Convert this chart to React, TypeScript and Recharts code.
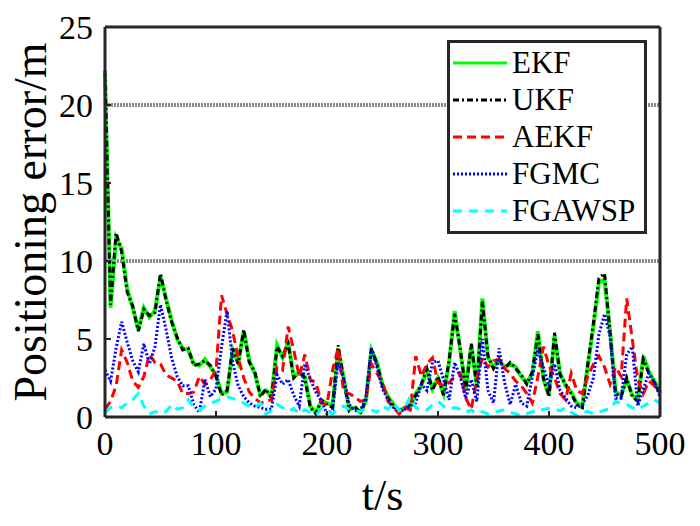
import { LineChart, Line, XAxis, YAxis, ReferenceLine, Legend } from "recharts";

// sample times (s)
const time = [
  0, 5, 10, 15, 20, 25, 30, 35, 40, 45, 50, 55, 60, 65, 70, 75, 80, 85, 90, 95,
  100, 105, 110, 115, 120, 125, 130, 135, 140, 145, 150, 155, 160, 165, 170, 175,
  180, 185, 190, 195, 200, 205, 210, 215, 220, 225, 230, 235, 240, 245, 250, 255,
  260, 265, 270, 275, 280, 285, 290, 295, 300, 305, 310, 315, 320, 325, 330, 335,
  340, 345, 350, 355, 360, 365, 370, 375, 380, 385, 390, 395, 400, 405, 410, 415,
  420, 425, 430, 435, 440, 445, 450, 455, 460, 465, 470, 475, 480, 485, 490, 495,
  500,
];

// positioning error (m) of each filter
const ekf = [
  22, 7.0, 11.5, 10.8, 8.2, 7.0, 5.6, 7.0, 6.4, 6.8,
  9.0, 7.6, 6.2, 5.0, 4.4, 4.3, 3.4, 3.3, 3.7, 3.2,
  2.7, 1.5, 1.6, 4.3, 3.5, 5.5, 3.6, 2.8, 1.4, 1.7,
  1.3, 4.6, 3.8, 4.8, 2.6, 2.8, 2.6, 0.7, 0.3, 1.0,
  0.9, 0.7, 4.4, 2.5, 0.5, 0.6, 0.3, 1.0, 4.3, 3.5,
  2.1, 1.3, 0.8, 0.4, 0.6, 0.7, 1.5, 2.0, 3.0, 1.8,
  2.5, 1.5, 3.5, 6.8, 4.3, 1.8, 4.6, 2.0, 7.6, 3.8,
  3.2, 3.6, 3.2, 3.4, 3.2, 2.6, 2.2, 2.8, 5.5, 2.4,
  1.4, 5.2, 2.8, 2.0, 1.6, 0.9, 0.7, 3.3, 5.8, 8.6,
  8.8, 5.5, 1.6, 1.4, 2.4, 1.4, 1.1, 3.9, 2.9, 2.3,
  1.6,
];

const ukf = [
  22.2, 7.2, 11.8, 10.6, 8.0, 7.1, 5.5, 6.9, 6.5, 6.7,
  9.2, 7.5, 6.1, 5.1, 4.3, 4.4, 3.3, 3.4, 3.6, 3.3,
  2.6, 1.4, 1.7, 4.4, 3.4, 5.6, 3.5, 2.9, 1.3, 1.8,
  1.2, 4.5, 3.9, 4.7, 2.5, 2.9, 2.5, 0.6, 0.2, 1.1,
  0.8, 0.6, 4.6, 2.4, 0.4, 0.7, 0.2, 1.1, 4.4, 3.4,
  2.0, 1.2, 0.7, 0.3, 0.5, 0.8, 1.4, 2.1, 3.1, 1.7,
  2.6, 1.4, 3.6, 6.6, 4.4, 1.7, 4.7, 1.9, 7.4, 3.9,
  3.1, 3.7, 3.1, 3.5, 3.1, 2.7, 2.1, 2.9, 5.3, 2.5,
  1.3, 5.4, 2.7, 2.1, 1.5, 0.8, 0.6, 3.4, 6.0, 8.9,
  9.2, 5.4, 1.5, 1.3, 2.5, 1.3, 1.0, 3.7, 2.8, 2.2,
  1.5,
];

const aekf = [
  0.5, 1.0, 2.0, 4.3, 3.5, 2.3, 1.9, 2.6, 4.0, 3.5,
  3.4, 2.7, 2.5, 2.3, 1.5, 1.5, 1.6, 2.6, 2.1, 2.4,
  3.0, 7.8, 6.6, 5.5, 3.8, 2.5, 1.6, 1.2, 0.9, 1.0,
  1.1, 3.2, 3.0, 5.8, 4.3, 2.6, 4.0, 2.4, 2.2, 0.9,
  0.8, 3.0, 4.4, 1.6, 1.5, 1.3, 1.0, 1.1, 3.4, 2.8,
  2.2, 1.0, 0.6, 0.2, 0.6, 0.45, 3.9, 2.6, 3.4, 3.8,
  2.2, 2.0, 2.2, 2.6, 2.8, 1.2, 0.5, 2.5, 3.8, 3.2,
  3.6, 3.7, 3.1, 2.8, 2.3, 2.0, 1.5, 0.9, 2.6, 4.5,
  3.3, 2.5, 1.5, 1.1, 2.8, 1.7, 1.5, 2.6, 3.4, 3.9,
  3.2, 2.1, 3.2, 2.6, 7.6, 5.0, 2.4, 1.5, 2.3, 2.0,
  1.5,
];

const fgmc = [
  3.0, 2.3, 4.4, 6.1, 4.8, 3.6, 2.9, 4.7, 3.4, 4.5,
  7.2, 5.6, 3.8, 2.6, 2.0, 2.0, 0.8, 0.3, 2.4, 1.3,
  1.8, 4.5, 6.8, 3.5, 2.0, 1.3, 0.9, 0.7, 0.6, 0.5,
  0.5, 2.7, 2.1, 2.4, 1.4, 0.7, 3.4, 2.4, 1.6, 1.0,
  0.2, 0.45, 3.5, 2.5, 0.8, 0.4, 0.4, 1.2, 4.4, 3.2,
  1.8, 1.1, 0.6, 0.45, 0.5, 0.7, 0.9, 2.1, 1.7, 3.5,
  3.6, 2.4, 1.1, 3.5, 2.6, 1.2, 2.4, 1.0, 5.0, 1.7,
  0.9, 4.4, 2.2, 0.8, 2.1, 0.9, 0.7, 2.6, 4.3, 3.2,
  2.0, 3.4, 1.7, 1.2, 0.7, 0.6, 0.8, 1.4, 2.5, 5.3,
  6.6, 5.2, 1.2, 1.2, 4.0, 4.5, 0.7, 1.8, 2.8, 2.2,
  1.3,
];

const fgawsp = [
  0.3, 0.6, 0.7, 0.6, 0.9, 1.1, 1.5, 0.7, 0.2, 0.35,
  0.2, 0.35, 0.8, 0.5, 0.6, 1.1, 0.6, 0.45, 0.7, 0.9,
  1.0, 1.2, 1.3, 1.2, 1.0, 0.9, 0.7, 0.6, 0.9, 0.2,
  0.4, 0.8, 0.6, 0.35, 0.55, 0.2, 0.45, 0.3, 0.1, 0.55,
  0.35, 0.2, 0.55, 0.7, 0.5, 0.4, 0.35, 0.55, 0.45, 0.3,
  0.7, 0.5, 0.9, 0.4, 0.6, 1.3, 0.6, 0.4, 0.45, 0.8,
  1.0, 0.7, 0.5, 0.6, 0.5, 0.3, 0.45, 0.2, 0.35, 0.2,
  0.25, 0.4, 0.45, 0.3, 0.2, 0.1, 0.2, 0.35, 0.3, 0.5,
  0.55, 0.5, 0.4, 0.6, 0.3, 0.1, 0.3, 0.35, 0.2, 0.3,
  0.45, 0.5, 1.0, 0.9, 0.8, 0.6, 0.45, 0.7, 0.9, 1.1,
  0.9,
];

const xTicks = [0, 100, 200, 300, 400, 500];
const yTicks = [0, 5, 10, 15, 20, 25];
const gridLevels = [10, 20];

const AXIS = "#262626";
const FONT = "Liberation Serif";

const series = [
  { key: "ekf", name: "EKF", color: "#00ff00", width: 4, dash: undefined },
  { key: "ukf", name: "UKF", color: "#000000", width: 3, dash: "6 3 2 3" },
  { key: "aekf", name: "AEKF", color: "#ff0000", width: 3, dash: "9 5" },
  { key: "fgmc", name: "FGMC", color: "#0000ff", width: 3, dash: "2 2" },
  { key: "fgawsp", name: "FGAWSP", color: "#00ffff", width: 3, dash: "9 7" },
];

const data = time.map((t, i) => ({
  t,
  ekf: ekf[i],
  ukf: ukf[i],
  aekf: aekf[i],
  fgmc: fgmc[i],
  fgawsp: fgawsp[i],
}));

function XTitle({ viewBox }: any) {
  return (
    <text
      x={viewBox.x + viewBox.width / 2}
      y={viewBox.y + 93}
      textAnchor="middle"
      fontFamily={FONT}
      fontSize={44}
      fill="#000"
    >
      t/s
    </text>
  );
}

function YTitle({ viewBox }: any) {
  const x = 46;
  const y = viewBox.y + viewBox.height / 2;
  return (
    <text
      x={x}
      y={y}
      transform={`rotate(-90 ${x} ${y})`}
      textAnchor="middle"
      fontFamily={FONT}
      fontSize={46}
      fill="#000"
    >
      Positioning error/m
    </text>
  );
}

function LegendBox() {
  return (
    <div
      style={{
        boxSizing: "border-box",
        width: 200,
        border: `3px solid ${AXIS}`,
        background: "#fff",
        padding: "1px 0 2px 3px",
        fontFamily: FONT,
        fontSize: 31,
        color: "#000",
      }}
    >
      {series.map((s) => (
        <div key={s.key} style={{ display: "flex", alignItems: "center", height: 37 }}>
          <svg width={54} height={6} style={{ marginRight: 5, flex: "none" }}>
            <line x1={0} y1={3} x2={54} y2={3} stroke={s.color} strokeWidth={3} strokeDasharray={s.dash} />
          </svg>
          <span style={{ lineHeight: "37px" }}>{s.name}</span>
        </div>
      ))}
    </div>
  );
}

export default function App() {
  return (
    <div style={{ position: "absolute", left: 0, top: 0 }}>
      <LineChart width={700} height={526} data={data} margin={{ top: 26, right: 39, bottom: 0, left: 0 }}>
        <XAxis
          dataKey="t"
          type="number"
          domain={[0, 500]}
          ticks={xTicks}
          height={109}
          tickSize={-6}
          tickMargin={20}
          axisLine={{ stroke: AXIS, strokeWidth: 3 }}
          tickLine={{ stroke: AXIS, strokeWidth: 2 }}
          tick={{ fill: "#000", fontSize: 34, fontFamily: FONT }}
          label={<XTitle />}
        />
        <XAxis
          xAxisId="top"
          orientation="top"
          dataKey="t"
          type="number"
          domain={[0, 500]}
          ticks={xTicks}
          height={1}
          tickSize={-6}
          axisLine={{ stroke: AXIS, strokeWidth: 3 }}
          tickLine={{ stroke: AXIS, strokeWidth: 2 }}
          tick={false}
        />
        <YAxis
          type="number"
          domain={[0, 25]}
          ticks={yTicks}
          width={105}
          tickSize={-6}
          tickMargin={18}
          axisLine={{ stroke: AXIS, strokeWidth: 3 }}
          tickLine={{ stroke: AXIS, strokeWidth: 2 }}
          tick={{ fill: "#000", fontSize: 34, fontFamily: FONT }}
          label={<YTitle />}
        />
        <YAxis
          yAxisId="right"
          orientation="right"
          type="number"
          domain={[0, 25]}
          ticks={yTicks}
          width={1}
          tickSize={-6}
          axisLine={{ stroke: AXIS, strokeWidth: 3 }}
          tickLine={{ stroke: AXIS, strokeWidth: 2 }}
          tick={false}
        />
        {gridLevels.map((v) => (
          <ReferenceLine key={v} y={v} stroke="#8a8a8a" strokeWidth={4} strokeDasharray="2 1" />
        ))}
        {series.map((s) => (
          <Line
            key={s.key}
            dataKey={s.key}
            name={s.name}
            type="linear"
            stroke={s.color}
            strokeWidth={s.width}
            strokeDasharray={s.dash}
            dot={false}
            activeDot={false}
            isAnimationActive={false}
          />
        ))}
        <Legend
          layout="vertical"
          align="center"
          verticalAlign="middle"
          content={<LegendBox />}
          wrapperStyle={{ left: 447, top: 40, width: "auto", height: "auto" }}
        />
      </LineChart>
    </div>
  );
}
